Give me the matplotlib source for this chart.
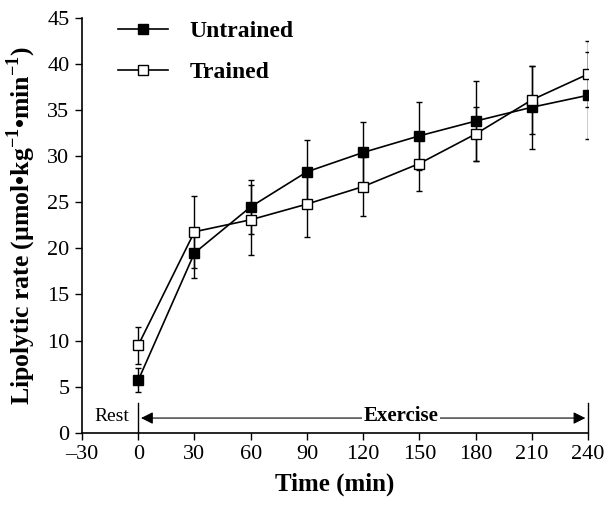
import matplotlib
matplotlib.use('Agg')
import matplotlib.pyplot as plt
from matplotlib.lines import Line2D

# time points (min)
time = [0, 30, 60, 90, 120, 150, 180, 210, 240]

untrained = [5.7, 19.5, 24.5, 28.3, 30.4, 32.2, 33.8, 35.3, 36.6]
untrained_err = [1.3, 2.7, 2.9, 3.4, 3.3, 3.7, 4.3, 4.5, 4.7]

trained = [9.5, 21.8, 23.1, 24.8, 26.7, 29.2, 32.4, 36.1, 38.9]
trained_err = [2.0, 3.9, 3.8, 3.6, 3.2, 3.0, 2.9, 3.7, 3.6]

xticks = [-30, 0, 30, 60, 90, 120, 150, 180, 210, 240]
yticks = [0, 5, 10, 15, 20, 25, 30, 35, 40, 45]

plt.rcParams['font.family'] = ['Liberation Serif', 'DejaVu Serif']
plt.rcParams['mathtext.fontset'] = 'custom'
plt.rcParams['mathtext.rm'] = 'Liberation Serif'
plt.rcParams['mathtext.bf'] = 'Liberation Serif:bold'

fig = plt.figure(figsize=(6.12, 5.08), dpi=100)
ax = fig.add_axes([0.134, 0.148, 0.827, 0.817])

ax.errorbar(time, untrained, yerr=untrained_err, c='black', lw=1.2,
            marker='s', ms=7, mfc='black', mec='black', ecolor='black',
            elinewidth=1, capsize=2.5, zorder=3)
ax.errorbar(time, trained, yerr=trained_err, c='black', lw=1.2,
            marker='s', ms=7, mfc='white', mec='black', ecolor='black',
            elinewidth=1, capsize=2.5, zorder=4)

ax.set_xlim(-30, 240)
ax.set_ylim(0, 45)
ax.set_xticks(xticks)
ax.set_xticklabels(['\u201330' if t < 0 else str(t) for t in xticks])
ax.set_yticks(yticks)
ax.tick_params(direction='out', length=5, width=1, labelsize=16, pad=4)
ax.spines['top'].set_visible(False)
ax.spines['right'].set_visible(False)
for s in ['left', 'bottom']:
    ax.spines[s].set_linewidth(1.2)

ax.set_xlabel('Time (min)', fontsize=18, fontweight='bold', labelpad=6)
ax.set_ylabel('Lipolytic rate (\u00b5mol\u2022kg$^{\\mathbf{-1}}$\u2022min$^{\\mathbf{-1}}$)',
              fontsize=18.5, fontweight='bold', labelpad=7)

# rest / exercise markers
ax.plot([0, 0], [0, 3.2], c='black', lw=1, clip_on=False)
ax.plot([240, 240], [0, 3.2], c='black', lw=1, clip_on=False)
ax.text(-5, 1.8, 'Rest', ha='right', va='center', fontsize=14)
ax.annotate('', xy=(0, 1.6), xytext=(140, 1.6),
            arrowprops=dict(arrowstyle='-|>', color='black', lw=0.8, mutation_scale=18))
ax.annotate('', xy=(240, 1.6), xytext=(140, 1.6),
            arrowprops=dict(arrowstyle='-|>', color='black', lw=0.8, mutation_scale=18))
ax.text(140, 1.8, 'Exercise', ha='center', va='center', fontsize=15, fontweight='bold',
        bbox=dict(fc='white', ec='none', pad=1))

handles = [Line2D([], [], c='black', lw=1.2, marker='s', ms=7, mfc='black', mec='black'),
           Line2D([], [], c='black', lw=1.2, marker='s', ms=7, mfc='white', mec='black')]
ax.legend(handles, ['Untrained', 'Trained'], loc='upper left',
          bbox_to_anchor=(0.03, 1.045), frameon=False,
          prop={'size': 17, 'weight': 'bold'}, handlelength=2.1,
          handletextpad=0.9, labelspacing=0.85)

plt.savefig('out.png', dpi=100)
